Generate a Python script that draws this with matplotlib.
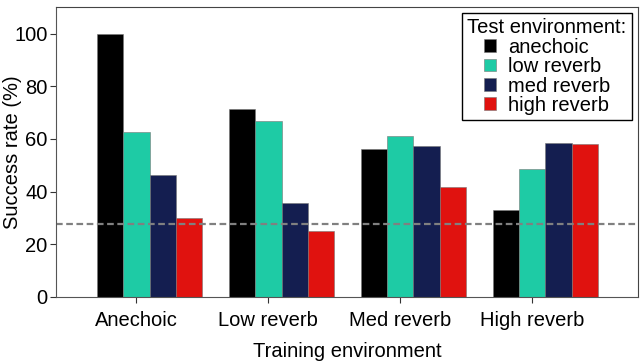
import numpy as np
import matplotlib
matplotlib.use('Agg')
import matplotlib.pyplot as plt

plt.rcParams['font.family'] = ['Liberation Sans', 'DejaVu Sans']

train_envs = ['Anechoic', 'Low reverb', 'Med reverb', 'High reverb']
test_envs = ['anechoic', 'low reverb', 'med reverb', 'high reverb']
colors = ['#000000', '#1ecba5', '#141e50', '#e0120f']

# success rate (%) per test environment, one value per training environment
anechoic = [100.0, 71.3, 56.2, 32.8]
low_reverb = [62.6, 66.7, 61.0, 48.4]
med_reverb = [46.3, 35.7, 57.3, 58.3]
high_reverb = [29.8, 25.1, 41.7, 58.0]
chance = 27.8

series = [anechoic, low_reverb, med_reverb, high_reverb]

fs = 14.5

fig = plt.figure(figsize=(6.4, 3.62), dpi=100)
ax = fig.add_axes([0.0875, 0.18, 0.909, 0.80])

x = np.arange(len(train_envs))
w = 0.2
for j, (vals, lab, col) in enumerate(zip(series, test_envs, colors)):
    ax.bar(x + (j - 1) * w, vals, w, color=col, label=lab,
           edgecolor='#777777', linewidth=0.4)

ax.axhline(chance, color='#808080', linestyle=(0, (3, 1.6)), linewidth=1.6)

ax.set_xlim(-0.61, 3.8)
ax.set_ylim(0, 110)
ax.set_xticks(x)
ax.set_xticklabels(train_envs)
ax.set_yticks([0, 20, 40, 60, 80, 100])
ax.tick_params(labelsize=fs, length=4, color='#333333')
ax.tick_params(axis='y', pad=2)
ax.tick_params(axis='x', pad=6)
ax.set_xlabel('Training environment', fontsize=fs, labelpad=9)
ax.set_ylabel('Success rate (%)', fontsize=fs)
ax.yaxis.set_label_coords(-0.059, 0.5)

for s in ['left', 'bottom']:
    ax.spines[s].set_color('#555555')
for s in ['top', 'right']:
    ax.spines[s].set_color('#444444')

leg = ax.legend(title='Test environment:', loc='upper right', fontsize=fs,
                title_fontsize=fs, fancybox=False, edgecolor='black',
                handlelength=0.6, handleheight=0.6, handletextpad=0.6,
                labelspacing=0.02, borderpad=0.25, borderaxespad=0.3,
                framealpha=1)
leg.get_frame().set_linewidth(1.0)

fig.savefig('out.png', dpi=100)
